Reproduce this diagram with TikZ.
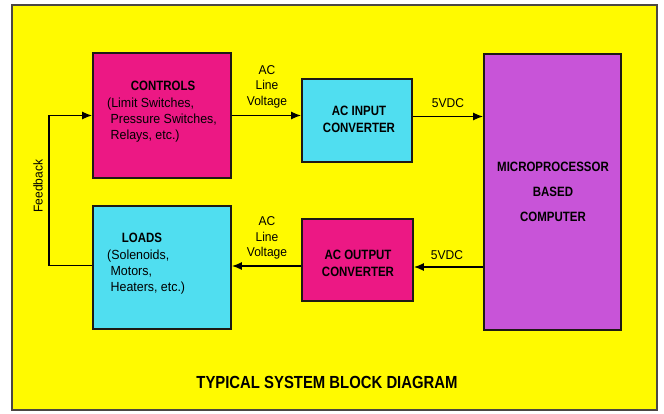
\documentclass[tikz,border=0pt]{standalone}
\usepackage{fontspec}
\setmainfont{Liberation Sans}
\newfontfamily\cond[FakeStretch=0.85]{Liberation Sans}
\newfontfamily\bodyf[FakeStretch=0.94]{Liberation Sans}
\usetikzlibrary{arrows.meta}
\definecolor{bgyellow}{RGB}{255,250,0}
\definecolor{magbox}{RGB}{236,24,132}
\definecolor{cyanbox}{RGB}{80,222,240}
\definecolor{purpbox}{RGB}{200,84,216}
\definecolor{edge}{RGB}{30,25,20}
\tikzset{
  blk/.style={draw=edge, line width=1.6pt, inner sep=0pt},
  head/.style={font=\cond\fontsize{13.5}{16.5}\selectfont\bfseries, inner sep=0pt, align=center},
  body/.style={font=\bodyf\fontsize{13.2}{16}\selectfont, inner sep=0pt, align=left},
  lbl/.style={font=\bodyf\fontsize{12.8}{15.5}\selectfont, inner sep=0pt, align=center},
  arr/.style={draw=black, line width=1.6pt, -{Latex[length=10pt,width=8pt]}},
}
\begin{document}
\begin{tikzpicture}[x=1pt,y=-1pt]
\useasboundingbox (0,0) rectangle (664,413);
\fill[white] (0,0) rectangle (664,413);
\draw[fill=bgyellow, draw=edge!80, line width=1.2pt] (12,5) rectangle (657,410);

% blocks
\node[blk, fill=magbox, minimum width=138pt, minimum height=125pt] (ctrl) at (162,115.5) {};
\node[blk, fill=cyanbox, minimum width=110pt, minimum height=83pt] (acin) at (357,120.5) {};
\node[blk, fill=purpbox, minimum width=137pt, minimum height=276pt] (micro) at (552.5,192) {};
\node[blk, fill=magbox, minimum width=111pt, minimum height=82pt] (acout) at (357.5,260) {};
\node[blk, fill=cyanbox, minimum width=138pt, minimum height=123pt] (loads) at (162,267.5) {};

% texts in blocks
\node[head] (ctrlh) at (163,86) {CONTROLS};
\node[body, anchor=north west] (ctrlb) at (107,98) {(Limit Switches,\\\ Pressure Switches,\\\ Relays, etc.)};
\node[head] (acinh) at (359,119.5) {AC INPUT\\CONVERTER};
\node[head, font=\cond\fontsize{13.5}{25}\selectfont\bfseries] (microh) at (553,192) {MICROPROCESSOR\\BASED\\COMPUTER};
\node[head] (acouth) at (358,263.5) {AC OUTPUT\\CONVERTER};
\node[head] (loadsh) at (142,238) {LOADS};
\node[body, anchor=north west] (loadsb) at (107,250) {(Solenoids,\\\ Motors,\\\ Heaters, etc.)};

% connectors
\draw[arr] (ctrl.east) -- (ctrl.east -| acin.west);
\draw[arr] ([yshift=4pt]acin.east) -- ([yshift=4pt]acin.east -| micro.west);
\draw[arr] ([yshift=-7pt]acout.east -| micro.west) -- ([yshift=-7pt]acout.east);
\draw[arr] ([yshift=-6pt]acout.west) -- ([yshift=-6pt]acout.west -| loads.east);
\draw[arr] ([yshift=2pt]loads.west) -- ++(-43,0) |- (ctrl.west);

% labels
\node[lbl] (l1) at (267,86.5) {AC\\Line\\Voltage};
\node[lbl] (l2) at (448,103) {5VDC};
\node[lbl] (l3) at (267,238) {AC\\Line\\Voltage};
\node[lbl] (l4) at (447,255) {5VDC};
\node[lbl, rotate=90] (fb) at (38,186) {Feedback};

% title
\node[inner sep=0pt, font=\cond\fontsize{17.5}{20}\selectfont\bfseries] (title) at (327,382) {TYPICAL SYSTEM BLOCK DIAGRAM};
\end{tikzpicture}
\end{document}
